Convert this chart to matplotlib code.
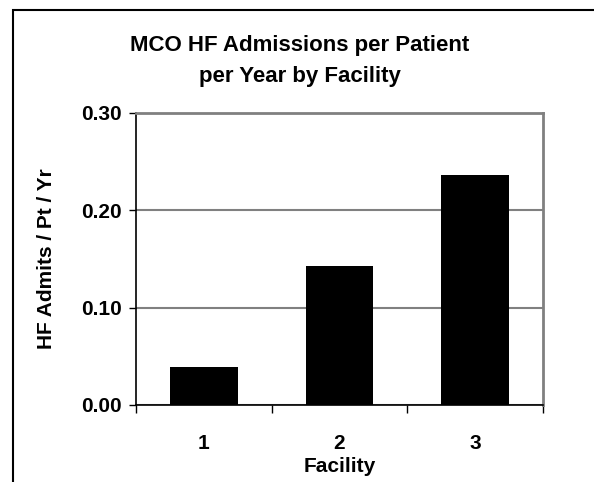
import matplotlib.pyplot as plt
from matplotlib.patches import Rectangle

facilities = ['1', '2', '3']
admits = [0.039, 0.143, 0.236]
yticks = [0.00, 0.10, 0.20, 0.30]

plt.rcParams['font.family'] = ['Liberation Sans', 'DejaVu Sans']
plt.rcParams['font.weight'] = 'bold'

fig = plt.figure(figsize=(5.94, 4.82), dpi=100)
# outer chart frame, runs past the right and bottom edges
fig.patches.append(Rectangle((13 / 594, -0.2), 2, 1 - 10 / 482 + 0.2, transform=fig.transFigure,
                             fill=False, edgecolor='black', linewidth=1.5))

ax = fig.add_axes([136 / 594, 1 - 405 / 482, 407 / 594, 292 / 482])
x = list(range(len(facilities)))
ax.bar(x, admits, width=0.5, color='black', zorder=3)
ax.set_xlim(-0.5, 2.5)
ax.set_ylim(0, 0.30)
ax.set_yticks(yticks)
ax.set_yticklabels([f'{v:.2f}' for v in yticks], fontsize=15, fontweight='bold')
ax.set_xticks(x)
ax.set_xticklabels(facilities, fontsize=15, fontweight='bold')
ax.tick_params(axis='x', length=0, pad=21)
ax.set_xticks([-0.5, 0.5, 1.5, 2.5], minor=True)
ax.tick_params(axis='x', which='minor', length=6, width=1, color='black')
ax.tick_params(axis='y', length=5, width=1, direction='out', pad=5)
ax.yaxis.grid(True, color='gray', linewidth=1.5, zorder=0)
for s in ['top', 'right']:
    ax.spines[s].set_color('gray')
    ax.spines[s].set_linewidth(2)
for s in ['left', 'bottom']:
    ax.spines[s].set_color('black')
    ax.spines[s].set_linewidth(1.2)

ax.set_xlabel('Facility', fontsize=15, fontweight='bold', labelpad=3)
ax.set_ylabel('HF Admits / Pt / Yr', fontsize=15, fontweight='bold', labelpad=18)
fig.text(300 / 594, 1 - 61 / 482, 'MCO HF Admissions per Patient\nper Year by Facility',
         ha='center', va='center', fontsize=16, fontweight='bold', linespacing=1.6)

fig.savefig('out.png', dpi=100)
